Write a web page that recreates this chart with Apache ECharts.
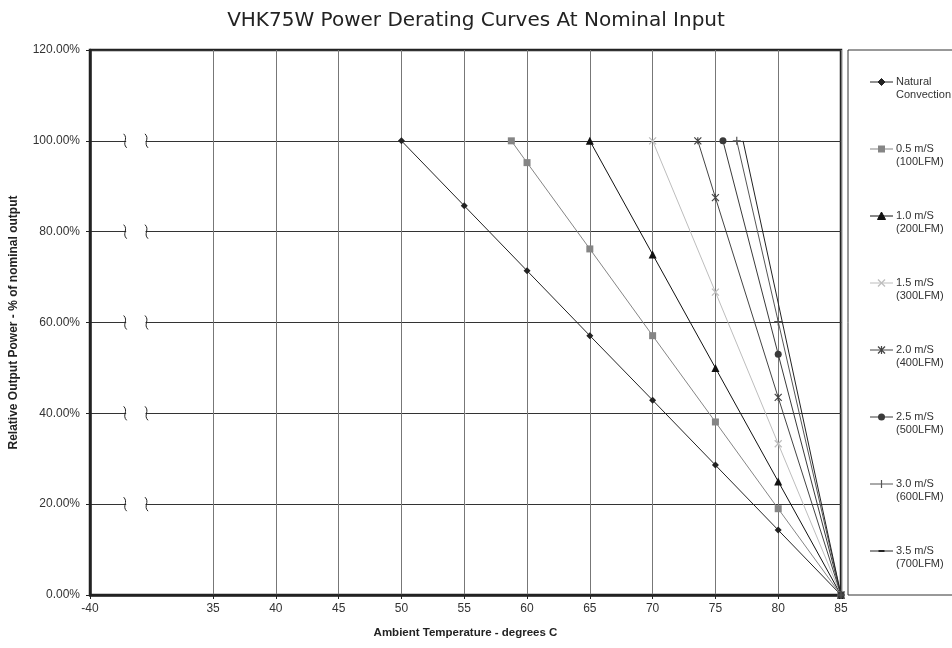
<!DOCTYPE html>
<html>
<head>
<meta charset="utf-8">
<script src="https://cdn.jsdelivr.net/npm/echarts@6/dist/echarts.min.js"></script>
<style>
html,body{margin:0;padding:0;background:#fff;}
#chart{width:952px;height:648px;}
</style>
</head>
<body>
<div id="chart"></div>
<script>
// x position used for the broken "-40" end of the axis
var BRK_POS = 25.2;
var xTicks = [BRK_POS, 35, 40, 45, 50, 55, 60, 65, 70, 75, 80, 85];
var breakRows = [20, 40, 60, 80, 100];
var breakX = [28.0, 29.7];

var ncX  = [50, 55, 60, 65, 70, 75, 80, 85];
var ncY  = [100, 85.7, 71.4, 57.1, 42.9, 28.6, 14.3, 0];
var s05X = [58.75, 60, 65, 70, 75, 80, 85];
var s05Y = [100, 95.2, 76.2, 57.1, 38.1, 19.0, 0];
var s10X = [65, 70, 75, 80, 85];
var s10Y = [100, 75, 50, 25, 0];
var s15X = [70, 75, 80, 85];
var s15Y = [100, 66.7, 33.3, 0];
var s20X = [73.6, 75, 80, 85];
var s20Y = [100, 87.5, 43.5, 0];
var s25X = [75.6, 80, 85];
var s25Y = [100, 53, 0];
var s30X = [76.7, 80, 85];
var s30Y = [100, 60.2, 0];
var s35X = [77.2, 80, 85];
var s35Y = [100, 64.3, 0];

var names = ['Natural\nConvection', '0.5 m/S\n(100LFM)', '1.0 m/S\n(200LFM)', '1.5 m/S\n(300LFM)',
  '2.0 m/S\n(400LFM)', '2.5 m/S\n(500LFM)', '3.0 m/S\n(600LFM)', '3.5 m/S\n(700LFM)'];
var allX = [ncX, s05X, s10X, s15X, s20X, s25X, s30X, s35X];
var allY = [ncY, s05Y, s10Y, s15Y, s20Y, s25Y, s30Y, s35Y];
var colors = ['#222', '#858585', '#111', '#bdbdbd', '#444', '#3a3a3a', '#555', '#222'];
var marks = ['diamond', 'rect', 'triangle', 'x', 'star', 'circle', 'plus', 'dash'];

function pts(xs, ys){
  var r = [];
  for (var i = 0; i < xs.length; i++) r.push([xs[i], ys[i]]);
  return r;
}

var PATHS = {
  x: 'path://M0,0L10,10M10,0L0,10',
  star: 'path://M0,0L10,10M10,0L0,10M5,0L5,10',
  plus: 'path://M5,0L5,10M0,5L10,5',
  dash: 'path://M0,5L10,5'
};
var SIZES = {diamond: 7, rect: 7, triangle: 8, x: 7, star: 7, circle: 7, plus: 8, dash: 6};

var series = [];
for (var i = 0; i < names.length; i++) {
  var m = marks[i], c = colors[i], stroked = !!PATHS[m];
  series.push({
    name: names[i], type: 'line', data: pts(allX[i], allY[i]),
    symbol: stroked ? PATHS[m] : m, symbolSize: SIZES[m],
    showAllSymbol: true, z: 3,
    lineStyle: {color: c, width: 1},
    itemStyle: stroked ? {color: c, borderColor: c, borderWidth: 1.2} : {color: c}
  });
}

// break marks on the horizontal grid lines
series.push({
  type: 'custom', name: 'breaks', silent: true, z: 2,
  data: breakRows.map(function(y){ return [breakX[0], y]; }),
  renderItem: function(params, api){
    var y = api.value(1);
    var a = api.coord([breakX[0], y]);
    var b = api.coord([breakX[1], y]);
    function squig(x, yy){
      return {
        type: 'bezierCurve',
        shape: {x1: x - 1.5, y1: yy - 7, cpx1: x + 3.5, cpy1: yy - 2, cpx2: x - 3.5, cpy2: yy + 2, x2: x + 1.5, y2: yy + 7},
        style: {stroke: '#222', lineWidth: 1, fill: 'none'}
      };
    }
    return {
      type: 'group',
      children: [
        {type: 'rect', shape: {x: a[0] + 1, y: a[1] - 2, width: b[0] - a[0] - 2, height: 4}, style: {fill: '#fff'}},
        squig(a[0], a[1]),
        squig(b[0], b[1])
      ]
    };
  }
});

// hand-made legend (box + entries)
var fontA = 'Liberation Sans, Arial, sans-serif';
function legendMark(m, cx, cy, c){
  var st = {fill: c, stroke: c, lineWidth: 1};
  var ln = {stroke: c, lineWidth: 1.2, fill: 'none'};
  if (m == 'diamond') return [{type: 'polygon', shape: {points: [[cx, cy - 3.5], [cx + 3.5, cy], [cx, cy + 3.5], [cx - 3.5, cy]]}, style: st}];
  if (m == 'rect') return [{type: 'rect', shape: {x: cx - 3.5, y: cy - 3.5, width: 7, height: 7}, style: {fill: c}}];
  if (m == 'triangle') return [{type: 'polygon', shape: {points: [[cx, cy - 4], [cx + 4, cy + 3.5], [cx - 4, cy + 3.5]]}, style: st}];
  if (m == 'circle') return [{type: 'circle', shape: {cx: cx, cy: cy, r: 3.5}, style: {fill: c}}];
  var out = [];
  if (m == 'x' || m == 'star') {
    out.push({type: 'line', shape: {x1: cx - 3.5, y1: cy - 3.5, x2: cx + 3.5, y2: cy + 3.5}, style: ln});
    out.push({type: 'line', shape: {x1: cx + 3.5, y1: cy - 3.5, x2: cx - 3.5, y2: cy + 3.5}, style: ln});
  }
  if (m == 'star' || m == 'plus') out.push({type: 'line', shape: {x1: cx, y1: cy - 4, x2: cx, y2: cy + 4}, style: ln});
  if (m == 'dash') out.push({type: 'line', shape: {x1: cx - 3, y1: cy, x2: cx + 3, y2: cy}, style: {stroke: c, lineWidth: 2}});
  return out;
}

var graphics = [{
  type: 'rect', shape: {x: 848, y: 50, width: 130, height: 545},
  style: {fill: 'none', stroke: '#333', lineWidth: 1}, silent: true
}];
for (var k = 0; k < names.length; k++) {
  var ly = 82 + 67 * k;
  var kids = [{type: 'line', shape: {x1: 870, y1: ly, x2: 893, y2: ly}, style: {stroke: colors[k], lineWidth: 1}}];
  kids = kids.concat(legendMark(marks[k], 881.5, ly, colors[k]));
  kids.push({
    type: 'text', x: 896, y: ly - 6,
    style: {text: names[k], font: '11px ' + fontA, fill: '#333', lineHeight: 12.5, verticalAlign: 'top'}
  });
  graphics.push({type: 'group', silent: true, children: kids});
}

var chart = echarts.init(document.getElementById('chart'));

chart.setOption({
  animation: false,
  backgroundColor: '#fff',
  title: {
    text: 'VHK75W Power Derating Curves At Nominal Input',
    left: 'center', top: 6,
    textStyle: {fontFamily: 'DejaVu Sans', fontSize: 20, fontWeight: 'normal', color: '#222'}
  },
  grid: {left: 89, right: 111, top: 50, bottom: 53, show: true, borderColor: '#222', borderWidth: 2.5, backgroundColor: 'transparent'},
  graphic: graphics,
  xAxis: {
    type: 'value', min: BRK_POS, max: 85,
    name: 'Ambient Temperature - degrees C', nameLocation: 'middle', nameGap: 32,
    nameTextStyle: {fontFamily: fontA, fontSize: 11.5, fontWeight: 'bold', color: '#222'},
    axisLine: {lineStyle: {color: '#222', width: 2.5}},
    axisTick: {show: true, length: 4, inside: false, customValues: xTicks, lineStyle: {color: '#222'}},
    axisLabel: {
      customValues: xTicks, margin: 8,
      fontFamily: fontA, fontSize: 12, color: '#333',
      formatter: function(v){ return v < 30 ? '-40' : String(v); }
    },
    splitLine: {show: true, lineStyle: {color: '#777', width: 1}}
  },
  yAxis: {
    type: 'value', min: 0, max: 120, interval: 20,
    name: 'Relative Output Power - % of nominal output', nameLocation: 'middle', nameGap: 70,
    nameTextStyle: {fontFamily: fontA, fontSize: 12, fontWeight: 'bold', color: '#222'},
    axisLine: {show: true, lineStyle: {color: '#222', width: 2.5}},
    axisTick: {show: true, length: 4, lineStyle: {color: '#222'}},
    axisLabel: {
      margin: 10, fontFamily: fontA, fontSize: 12, color: '#333',
      formatter: function(v){ return v.toFixed(2) + '%'; }
    },
    splitLine: {show: true, lineStyle: {color: '#333', width: 1}}
  },
  series: series
});
</script>
</body>
</html>
